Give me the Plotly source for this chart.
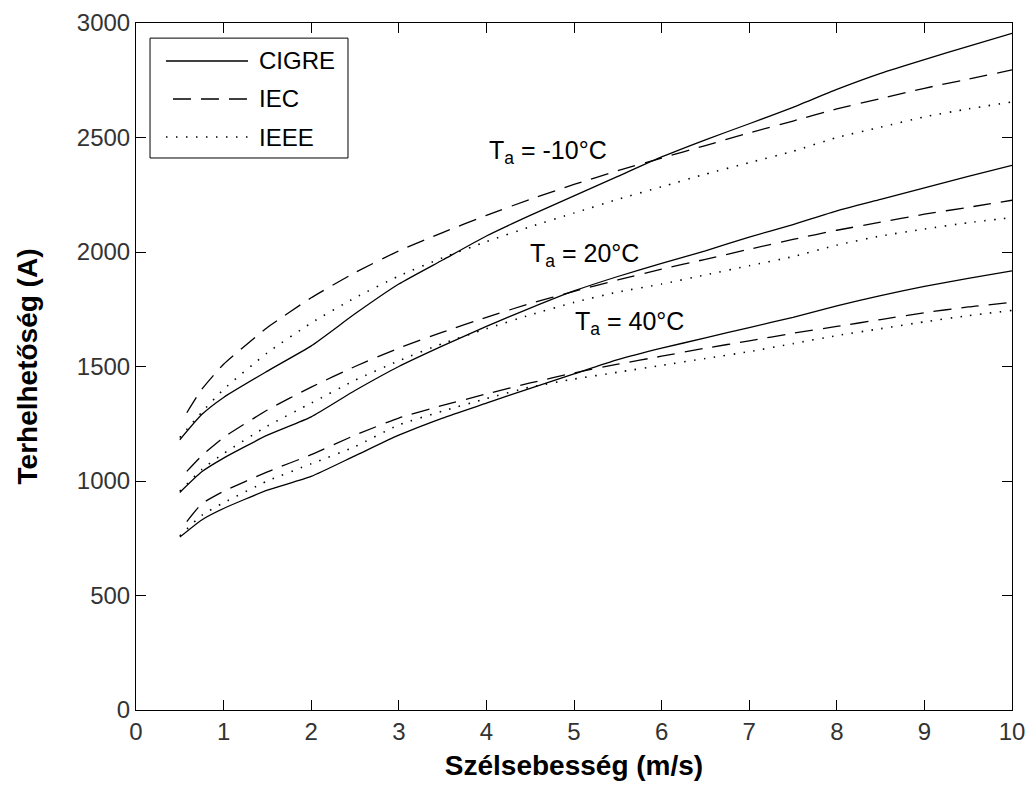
import plotly.graph_objects as go

# ---------------- data ----------------
wind = [0.5, 0.75, 1, 1.5, 2, 2.5, 3, 3.5, 4, 4.5, 5, 5.5, 6, 6.5, 7, 7.5, 8, 8.5, 9, 9.5, 10]
wind_iec = [0.58, 0.75, 1, 1.5, 2, 2.5, 3, 3.5, 4, 4.5, 5, 5.5, 6, 6.5, 7, 7.5, 8, 8.5, 9, 9.5, 10]

cigre_m10 = [1180, 1290, 1365, 1480, 1590, 1730, 1860, 1965, 2070, 2160, 2245, 2330, 2415, 2490, 2560, 2632, 2710, 2780, 2840, 2898, 2955]
iec_m10 = [1298, 1400, 1510, 1670, 1800, 1910, 2005, 2085, 2160, 2230, 2295, 2355, 2410, 2465, 2520, 2572, 2625, 2670, 2715, 2755, 2795]
ieee_m10 = [1190, 1300, 1400, 1560, 1690, 1800, 1895, 1975, 2045, 2110, 2170, 2230, 2285, 2340, 2390, 2440, 2500, 2545, 2590, 2625, 2655]

cigre_20 = [950, 1040, 1100, 1200, 1280, 1395, 1500, 1590, 1675, 1755, 1830, 1893, 1950, 2005, 2065, 2120, 2180, 2230, 2280, 2330, 2378]
iec_20 = [1042, 1110, 1190, 1310, 1410, 1500, 1580, 1650, 1715, 1775, 1828, 1878, 1925, 1968, 2012, 2055, 2095, 2130, 2165, 2195, 2226]
ieee_20 = [955, 1050, 1120, 1240, 1340, 1440, 1525, 1600, 1665, 1725, 1780, 1825, 1860, 1900, 1940, 1980, 2030, 2070, 2100, 2128, 2150]

cigre_40 = [755, 830, 880, 960, 1020, 1110, 1200, 1275, 1340, 1405, 1468, 1530, 1580, 1625, 1670, 1715, 1765, 1810, 1850, 1885, 1918]
iec_40 = [823, 900, 955, 1040, 1115, 1200, 1275, 1330, 1380, 1428, 1472, 1510, 1545, 1580, 1612, 1645, 1675, 1705, 1735, 1760, 1780]
ieee_40 = [760, 850, 905, 1000, 1075, 1150, 1245, 1305, 1360, 1410, 1445, 1475, 1505, 1535, 1565, 1600, 1635, 1665, 1695, 1722, 1745]

methods = ["CIGRE", "IEC", "IEEE"]
temp_labels = ["T<sub>a</sub> = -10°C", "T<sub>a</sub> = 20°C", "T<sub>a</sub> = 40°C"]
label_pos_x = [4.01, 4.48, 4.99]
label_pos_y = [2435, 1985, 1688]

x_ticks = [0, 1, 2, 3, 4, 5, 6, 7, 8, 9, 10]
y_ticks = [0, 500, 1000, 1500, 2000, 2500, 3000]

# ---------------- styles ----------------
REG = "Liberation Sans, Arial, sans-serif"
dash_styles = {"CIGRE": "solid", "IEC": "18px,10px", "IEEE": "1.5px,8.5px"}
widths = {"CIGRE": 1.3, "IEC": 1.3, "IEEE": 1.6}

fig = go.Figure()
series = [
    ("CIGRE", wind, cigre_m10), ("IEC", wind_iec, iec_m10), ("IEEE", wind, ieee_m10),
    ("CIGRE", wind, cigre_20), ("IEC", wind_iec, iec_20), ("IEEE", wind, ieee_20),
    ("CIGRE", wind, cigre_40), ("IEC", wind_iec, iec_40), ("IEEE", wind, ieee_40),
]
for name, xs, ys in series:
    fig.add_trace(go.Scatter(
        x=xs, y=ys, mode="lines", name=name, showlegend=False,
        line=dict(color="black", width=widths[name], dash=dash_styles[name],
                  shape="spline", smoothing=0.5),
    ))

for txt, lx, ly in zip(temp_labels, label_pos_x, label_pos_y):
    fig.add_annotation(x=lx, y=ly, text=txt, showarrow=False, xanchor="left",
                       yanchor="middle", font=dict(family=REG, size=25, color="black"))

# custom legend (paper coordinates)
legend_rows = [0.9447, 0.8894, 0.834]
legend_x0 = [0.0342, 0.0422, 0.0342]
fig.add_shape(type="rect", xref="paper", yref="paper", x0=0.016, x1=0.242, y0=0.8035, y1=0.978,
              line=dict(color="black", width=1), fillcolor="white", layer="above")
for name, ry, rx in zip(methods, legend_rows, legend_x0):
    fig.add_shape(type="line", xref="paper", yref="paper", x0=rx, x1=0.1279, y0=ry, y1=ry,
                  line=dict(color="black", width=widths[name], dash=dash_styles[name]), layer="above")
    fig.add_annotation(xref="paper", yref="paper", x=0.1381, y=ry, text=name, showarrow=False,
                       xanchor="left", yanchor="middle",
                       font=dict(family=REG, size=24, color="black"))

axis_common = dict(showline=True, linecolor="black", linewidth=1, mirror="ticks",
                   ticks="inside", ticklen=10, tickcolor="black", tickwidth=1,
                   showgrid=False, zeroline=False, automargin=False,
                   tickfont=dict(family=REG, size=24, color="#333333"))

fig.update_xaxes(range=[0, 10], tickvals=x_ticks, ticktext=[str(v) for v in x_ticks],
                 title=dict(text="<b>Szélsebesség (m/s)</b>", font=dict(family=REG, size=28, color="black"),
                            standoff=11),
                 **axis_common)
fig.update_yaxes(range=[0, 3000], tickvals=y_ticks, ticktext=[str(v) for v in y_ticks],
                 title=dict(text="<b>Terhelhetőség (A)</b>", font=dict(family=REG, size=28, color="black"),
                            standoff=31),
                 **axis_common)

fig.update_layout(
    width=1028, height=787,
    margin=dict(l=136, r=16, t=23, b=77),
    paper_bgcolor="white", plot_bgcolor="white",
    showlegend=False,
)

fig.write_html("out.html")
